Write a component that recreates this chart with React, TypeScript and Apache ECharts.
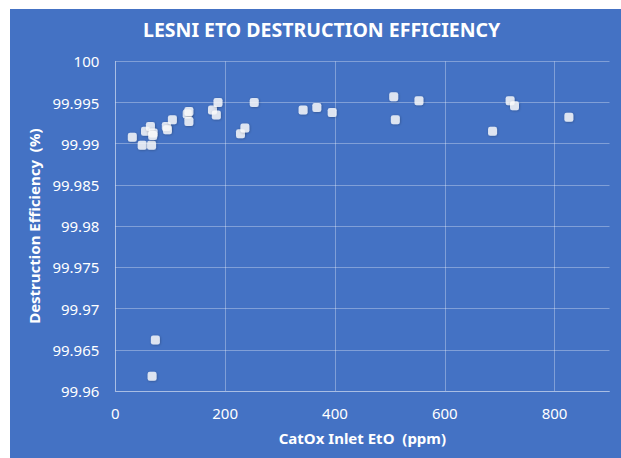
import React, { useEffect, useRef } from "react";
import * as echarts from "echarts";

const titleText = "LESNI ETO DESTRUCTION EFFICIENCY";
const xAxisTitle = "CatOx Inlet EtO  (ppm)";
const yAxisTitle = "Destruction Efficiency  (%)";

const inletEtO = [
  31, 49, 66, 55, 64, 69, 68, 93, 95, 104, 131, 134, 134, 177, 184, 187, 253, 228, 236,
  342, 367, 395, 507, 510, 553, 719, 727, 687, 826, 73, 67,
];
const efficiency = [
  99.9908, 99.9898, 99.9898, 99.9915, 99.9921, 99.9913, 99.991, 99.9921, 99.9917, 99.9929,
  99.9936, 99.9939, 99.9927, 99.9941, 99.9935, 99.995, 99.995, 99.9912, 99.9919, 99.9941,
  99.9944, 99.9938, 99.9957, 99.9929, 99.9952, 99.9952, 99.9946, 99.9915, 99.9932, 99.9662,
  99.9618,
];

const xMin = 0;
const xMax = 900;
const xStep = 200;
const yMin = 99.96;
const yMax = 100;
const yStep = 0.005;

export default function App() {
  const ref = useRef<HTMLDivElement>(null);
  useEffect(() => {
    if (!ref.current) return;
    const chart = echarts.init(ref.current, null, { renderer: "svg" });
    const font = "'Noto Sans', 'Open Sans', sans-serif";
    const gridColor = "rgba(255,255,255,0.32)";
    const points = inletEtO.map((x, i) => [x, efficiency[i]]);
    chart.setOption({
      animation: false,
      backgroundColor: "#4472C4",
      title: {
        text: titleText,
        left: 133,
        top: 10,
        padding: 0,
        textStyle: { color: "#fff", fontFamily: font, fontWeight: "bold", fontSize: 19.5 },
      },
      grid: { left: 105.3, right: 11.5, top: 52.3, bottom: 67 },
      xAxis: {
        type: "value",
        min: xMin,
        max: xMax,
        interval: xStep,
        name: xAxisTitle,
        nameLocation: "middle",
        nameGap: 39,
        nameTextStyle: { color: "#fff", fontFamily: font, fontWeight: "bold", fontSize: 15 },
        axisLine: { show: true, lineStyle: { color: gridColor } },
        axisTick: { show: false },
        axisLabel: {
          color: "#fff",
          fontFamily: font,
          fontSize: 15,
          margin: 14,
          showMaxLabel: false,
          formatter: (v: number) => (v >= xMax ? "" : String(v)),
        },
        splitLine: { show: true, showMaxLine: false, lineStyle: { color: gridColor } },
      },
      yAxis: {
        type: "value",
        min: yMin,
        max: yMax,
        interval: yStep,
        name: yAxisTitle,
        nameLocation: "middle",
        nameGap: 70,
        nameTextStyle: { color: "#fff", fontFamily: font, fontWeight: "bold", fontSize: 15 },
        axisLine: { show: true, lineStyle: { color: gridColor } },
        axisTick: { show: false },
        axisLabel: {
          color: "#fff",
          fontFamily: font,
          fontSize: 15,
          margin: 16,
          formatter: (v: number) => String(+v.toFixed(3)),
        },
        splitLine: { show: true, lineStyle: { color: gridColor } },
      },
      series: [
        {
          type: "scatter",
          data: points,
          symbol: "roundRect",
          symbolSize: 9,
          itemStyle: {
            color: "#fff",
            shadowBlur: 2,
            shadowColor: "rgba(0,0,0,0.35)",
            shadowOffsetX: 0.5,
            shadowOffsetY: 0.5,
          },
        },
      ],
    });
    return () => chart.dispose();
  }, []);
  return (
    <div style={{ position: "fixed", left: 0, top: 0, width: 621, height: 458, background: "#fff" }}>
      <div ref={ref} style={{ position: "absolute", left: 10, top: 9, width: 611, height: 449 }} />
    </div>
  );
}
